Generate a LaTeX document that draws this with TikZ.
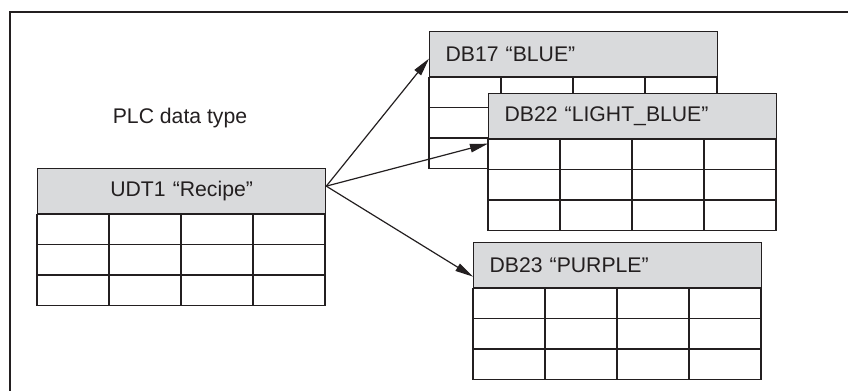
\documentclass[tikz,border=0pt]{standalone}
\usepackage{fontspec}
\setmainfont{Liberation Sans}
\usetikzlibrary{arrows.meta}
\definecolor{kopfgrau}{HTML}{D9DADC}
\definecolor{liniengrau}{HTML}{231F20}

\begin{document}
\begin{tikzpicture}[
  x=0.5pt, y=-0.5pt,
  every node/.style={font=\fontsize{10.6}{12}\selectfont, text=liniengrau},
  kopf/.style={rectangle, draw=liniengrau, line width=0.65pt, fill=kopfgrau, minimum width=144pt, minimum height=22.5pt, inner xsep=8pt, text width=128pt, anchor=north west},
  links/.style={align=left},
  mitte/.style={align=center},
  zelle/.style={draw=liniengrau, line width=0.65pt},
  rahmen/.style={draw=liniengrau, line width=0.7pt},
  pfeil/.style={-{Triangle[length=9pt,width=4.2pt]}, line width=0.6pt, draw=liniengrau}
]
  \useasboundingbox (0,0) rectangle (848,391);
  \draw[rahmen] (848,12) -- (10,12) -- (10,391);

  \node (plctyp) at (180,118) {PLC data type};

  % tables: header node, then body of 4 x 3 cells
  \foreach \t/\x/\y/\al/\lbl in {udt/37/168/mitte/{UDT1 “Recipe”},
                                  db17/429/31/links/{DB17 “BLUE”},
                                  db22/488/93/links/{DB22 “LIGHT\_BLUE”},
                                  db23/473/242/links/{DB23 “PURPLE”}} {
    \node[kopf, \al] (\t) at (\x,\y) {\lbl};
    \draw[zelle, fill=white] (\t.south west) rectangle ++(288,91);
    \foreach \c in {1,2,3}
      \draw[zelle] (\t.south west) ++(72*\c,0) -- ++(0,91);
    \foreach \r in {1,2}
      \draw[zelle] (\t.south west) ++(0,30.33*\r) -- ++(288,0);
  }

  \coordinate (src) at ([yshift=2.5pt]udt.east);
  \draw[pfeil] (src) -- ([yshift=-2.25pt]db17.west);
  \draw[pfeil] (src) -- ([yshift=-13.75pt]db22.west);
  \draw[pfeil] (src) -- ([yshift=-5.75pt]db23.west);
\end{tikzpicture}
\end{document}
